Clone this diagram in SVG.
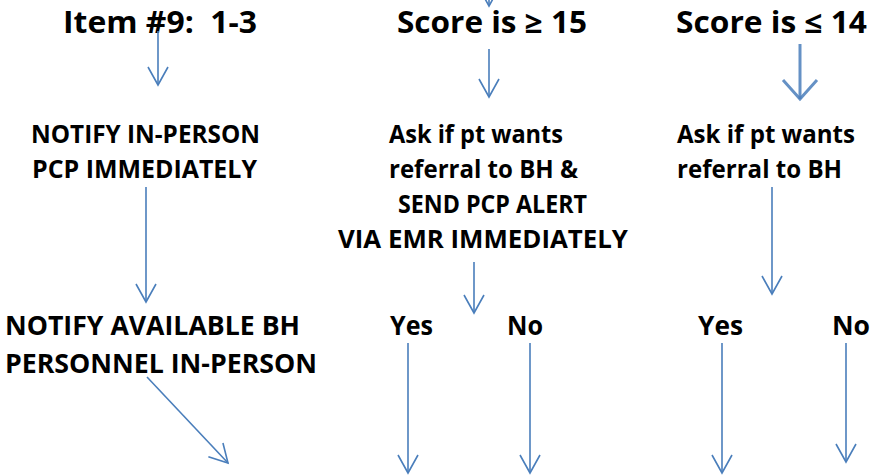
<svg xmlns="http://www.w3.org/2000/svg" width="871" height="475" viewBox="0 0 871 475">
<style>
text{font-family:"Open Sans",Lato,"Liberation Sans",sans-serif;font-weight:bold;fill:#000;white-space:pre}
.t{font-size:29.5px}
.m{font-size:24.5px}
.l{font-size:27.5px}
.c{stroke:#4A7EBB;stroke-width:1.6;fill:none}
.k{stroke:#4A7EBB;stroke-width:3;fill:none}
</style>
<defs>
<marker id="ah" markerUnits="userSpaceOnUse" orient="auto" markerWidth="40" markerHeight="40" refX="0" refY="0" viewBox="-20 -20 40 40" overflow="visible">
<path d="M-18,-10 L0,0 L-18,10" fill="none" stroke="#4A7EBB" stroke-width="1.6"/>
</marker>
<marker id="ahk" markerUnits="userSpaceOnUse" orient="auto" markerWidth="40" markerHeight="40" refX="0" refY="0" viewBox="-20 -20 40 40" overflow="visible">
<path d="M-19,-17 L0,0 L-19,17" fill="none" stroke="#4A7EBB" stroke-width="3" stroke-opacity="0.85"/>
</marker>
</defs>
<rect width="871" height="475" fill="#fff"/>
<g id="n-item9"><text class="t" x="63" y="33" textLength="194" lengthAdjust="spacingAndGlyphs" xml:space="preserve">Item #9:  1-3</text></g>
<g id="n-score15"><text class="t" x="397" y="33" textLength="190" lengthAdjust="spacingAndGlyphs">Score is ≥ 15</text></g>
<g id="n-score14"><text class="t" x="676" y="33" textLength="191" lengthAdjust="spacingAndGlyphs">Score is ≤ 14</text></g>
<g id="n-notify-pcp">
<text class="m" x="31" y="143" textLength="229" lengthAdjust="spacingAndGlyphs">NOTIFY IN-PERSON</text>
<text class="m" x="32" y="178" textLength="225" lengthAdjust="spacingAndGlyphs">PCP IMMEDIATELY</text>
</g>
<g id="n-ask-mid">
<text class="m" x="389" y="143" textLength="174" lengthAdjust="spacingAndGlyphs">Ask if pt wants</text>
<text class="m" x="389" y="178" textLength="189" lengthAdjust="spacingAndGlyphs">referral to BH &amp;</text>
<text class="m" x="398" y="213" textLength="189" lengthAdjust="spacingAndGlyphs">SEND PCP ALERT</text>
<text class="m" x="338" y="248" textLength="290" lengthAdjust="spacingAndGlyphs">VIA EMR IMMEDIATELY</text>
</g>
<g id="n-ask-right">
<text class="m" x="677" y="143" textLength="178" lengthAdjust="spacingAndGlyphs">Ask if pt wants</text>
<text class="m" x="677" y="178" textLength="165" lengthAdjust="spacingAndGlyphs">referral to BH</text>
</g>
<g id="n-notify-bh">
<text class="l" x="5" y="335" textLength="295" lengthAdjust="spacingAndGlyphs">NOTIFY AVAILABLE BH</text>
<text class="l" x="5" y="373" textLength="312" lengthAdjust="spacingAndGlyphs">PERSONNEL IN-PERSON</text>
</g>
<g id="n-yes-mid"><text class="l" x="390" y="335" textLength="43" lengthAdjust="spacingAndGlyphs">Yes</text></g>
<g id="n-no-mid"><text class="l" x="507" y="335" textLength="36" lengthAdjust="spacingAndGlyphs">No</text></g>
<g id="n-yes-right"><text class="l" x="698" y="335" textLength="45" lengthAdjust="spacingAndGlyphs">Yes</text></g>
<g id="n-no-right"><text class="l" x="832" y="335" textLength="38" lengthAdjust="spacingAndGlyphs">No</text></g>
<g id="connectors">
<line class="c" x1="489" y1="-30" x2="489" y2="6" marker-end="url(#ah)"/>
<line class="c" x1="158" y1="31" x2="158" y2="85" marker-end="url(#ah)"/>
<line class="c" x1="489" y1="49" x2="489" y2="97" marker-end="url(#ah)"/>
<line class="k" x1="800" y1="44" x2="800" y2="99" marker-end="url(#ahk)" stroke-opacity="0.85"/>
<line class="c" x1="146" y1="187" x2="146" y2="302" marker-end="url(#ah)"/>
<line class="c" x1="474" y1="262" x2="474" y2="313" marker-end="url(#ah)"/>
<line class="c" x1="772" y1="187" x2="772" y2="294" marker-end="url(#ah)"/>
<line class="c" x1="147" y1="377" x2="228" y2="463" marker-end="url(#ah)"/>
<line class="c" x1="408" y1="343" x2="408" y2="473" marker-end="url(#ah)"/>
<line class="c" x1="530" y1="343" x2="530" y2="473" marker-end="url(#ah)"/>
<line class="c" x1="722" y1="343" x2="722" y2="473" marker-end="url(#ah)"/>
<line class="c" x1="846" y1="343" x2="846" y2="462" marker-end="url(#ah)"/>
</g>
</svg>
